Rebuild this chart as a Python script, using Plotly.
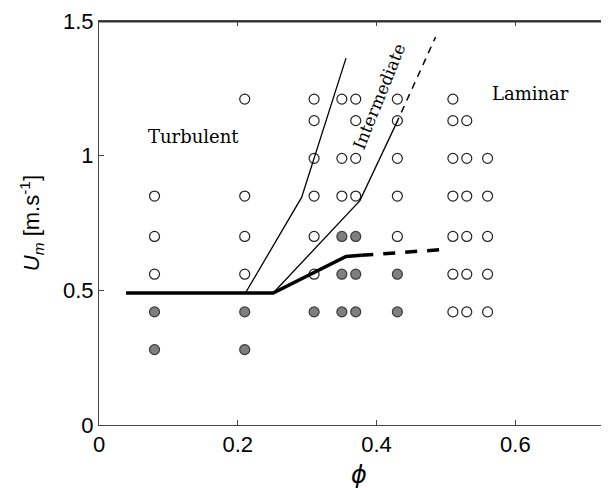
import plotly.graph_objects as go

# Data points: open circles and filled circles
open_x = [0.08, 0.08, 0.08,
          0.21, 0.21, 0.21, 0.21,
          0.31, 0.31, 0.31, 0.31, 0.31, 0.31,
          0.35, 0.35, 0.35,
          0.37, 0.37, 0.37, 0.37,
          0.43, 0.43, 0.43, 0.43, 0.43,
          0.51, 0.51, 0.51, 0.51, 0.51, 0.51, 0.51,
          0.53, 0.53, 0.53, 0.53, 0.53, 0.53,
          0.56, 0.56, 0.56, 0.56, 0.56]
open_y = [0.56, 0.70, 0.85,
          0.56, 0.70, 0.85, 1.21,
          0.56, 0.70, 0.85, 0.99, 1.13, 1.21,
          0.85, 0.99, 1.21,
          0.85, 0.99, 1.13, 1.21,
          0.70, 0.85, 0.99, 1.13, 1.21,
          0.42, 0.56, 0.70, 0.85, 0.99, 1.13, 1.21,
          0.42, 0.56, 0.70, 0.85, 0.99, 1.13,
          0.42, 0.56, 0.70, 0.85, 0.99]
filled_x = [0.08, 0.08, 0.21, 0.21, 0.31,
            0.35, 0.35, 0.35, 0.37, 0.37, 0.37,
            0.43, 0.43]
filled_y = [0.28, 0.42, 0.28, 0.42, 0.42,
            0.42, 0.56, 0.70, 0.42, 0.56, 0.70,
            0.42, 0.56]

# Boundary lines
thick_x = [0.039, 0.251, 0.356, 0.378]
thick_y = [0.49, 0.49, 0.626, 0.630]
thick_dash_x = [0.378, 0.493]
thick_dash_y = [0.630, 0.651]
thin1_x = [0.211, 0.292, 0.356]
thin1_y = [0.49, 0.845, 1.362]
thin2_x = [0.251, 0.376, 0.428]
thin2_y = [0.49, 0.833, 1.117]
thin2_dash_x = [0.428, 0.485]
thin2_dash_y = [1.117, 1.44]

fig = go.Figure()
fig.add_trace(go.Scatter(x=open_x, y=open_y, mode="markers",
                         marker=dict(size=10, color="white",
                                     line=dict(color="#222222", width=1.2))))
fig.add_trace(go.Scatter(x=filled_x, y=filled_y, mode="markers",
                         marker=dict(size=10, color="#7f7f7f",
                                     line=dict(color="#3a3a3a", width=1.2))))
fig.add_trace(go.Scatter(x=thick_x, y=thick_y, mode="lines",
                         line=dict(color="black", width=3.5)))
fig.add_trace(go.Scatter(x=thick_dash_x, y=thick_dash_y, mode="lines",
                         line=dict(color="black", width=3.5, dash="12px,10px")))
fig.add_trace(go.Scatter(x=thin1_x, y=thin1_y, mode="lines",
                         line=dict(color="black", width=1.3)))
fig.add_trace(go.Scatter(x=thin2_x, y=thin2_y, mode="lines",
                         line=dict(color="black", width=1.3)))
fig.add_trace(go.Scatter(x=thin2_dash_x, y=thin2_dash_y, mode="lines",
                         line=dict(color="black", width=1.5, dash="7px,6px")))

serif = "DejaVu Serif"
fig.add_annotation(x=0.136, y=1.07, text="Turbulent", showarrow=False,
                   font=dict(family=serif, size=18, color="black"))
fig.add_annotation(x=0.622, y=1.229, text="Laminar", showarrow=False,
                   font=dict(family=serif, size=18, color="black"))
fig.add_annotation(x=0.403, y=1.219, text="Intermediate", showarrow=False,
                   textangle=-68,
                   font=dict(family=serif, size=17, color="black"))

axis_font = dict(family="Liberation Sans", size=22, color="black")
fig.add_annotation(xref="paper", yref="paper", x=0.51, y=-0.123,
                   text="<i>ϕ</i>", showarrow=False, yanchor="middle",
                   font=dict(family="DejaVu Sans", size=24, color="black"))
fig.add_annotation(xref="paper", yref="paper", x=-0.133, y=0.5,
                   text="<i>U</i><sub><i>m</i></sub> [m.s<sup>-1</sup>]",
                   showarrow=False, textangle=-90, xanchor="center",
                   yanchor="middle", font=axis_font)

# top frame line
fig.add_shape(type="line", xref="paper", yref="paper", x0=0, x1=1,
              y0=0.998, y1=0.998,
              line=dict(color="#333", width=1.6), layer="above")

fig.update_layout(
    width=601, height=480,
    margin=dict(l=91, r=0, t=13, b=63),
    paper_bgcolor="white", plot_bgcolor="white",
    showlegend=False,
    font=axis_font,
    xaxis=dict(range=[0, 0.735], tickvals=[0, 0.2, 0.4, 0.6],
               ticktext=["0", "0.2", "0.4", "0.6"],
               ticks="inside", ticklen=5, tickcolor="#444",
               showline=True, linecolor="#444", linewidth=1, mirror="ticks",
               showgrid=False, zeroline=False, tickfont=axis_font,
               ticklabeloverflow="allow"),
    yaxis=dict(range=[0, 1.5], tickvals=[0, 0.5, 1, 1.5],
               ticktext=["0", "0.5", "1", "1.5"],
               ticks="inside", ticklen=5, tickcolor="#444",
               showline=True, linecolor="#444", linewidth=1, mirror=False,
               showgrid=False, zeroline=False, tickfont=axis_font,
               ticklabeloverflow="allow"),
)

fig.write_html("out.html")
